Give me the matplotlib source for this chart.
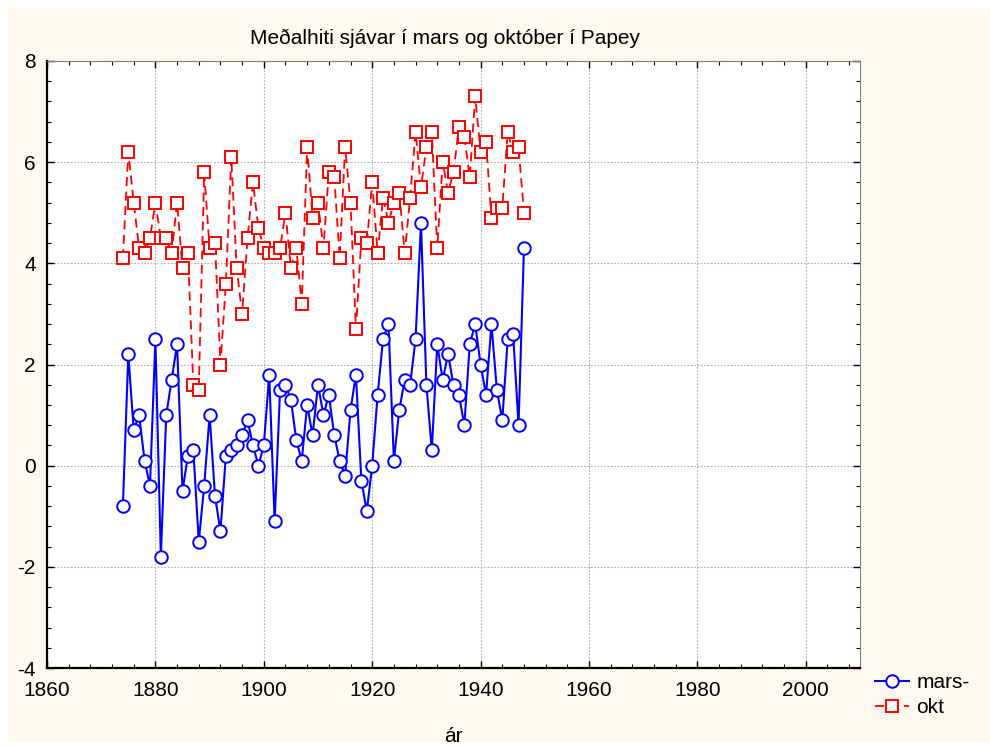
import numpy as np
import matplotlib.pyplot as plt
from matplotlib.patches import Rectangle
from matplotlib.ticker import MultipleLocator

plt.rcParams['font.family'] = ['Liberation Sans', 'DejaVu Sans']
plt.rcParams['axes.unicode_minus'] = False

# Data: sea temperature at Papey, March and October
years = list(range(1874, 1949))
mars = [-0.8, 2.2, 0.7, 1.0, 0.1, -0.4, 2.5, -1.8, 1.0, 1.7,
        2.4, -0.5, 0.2, 0.3, -1.5, -0.4, 1.0, -0.6, -1.3, 0.2,
        0.3, 0.4, 0.6, 0.9, 0.4, 0.0, 0.4, 1.8, -1.1, 1.5,
        1.6, 1.3, 0.5, 0.1, 1.2, 0.6, 1.6, 1.0, 1.4, 0.6,
        0.1, -0.2, 1.1, 1.8, -0.3, -0.9, 0.0, 1.4, 2.5, 2.8,
        0.1, 1.1, 1.7, 1.6, 2.5, 4.8, 1.6, 0.3, 2.4, 1.7,
        2.2, 1.6, 1.4, 0.8, 2.4, 2.8, 2.0, 1.4, 2.8, 1.5,
        0.9, 2.5, 2.6, 0.8, 4.3]
okt = [4.1, 6.2, 5.2, 4.3, 4.2, 4.5, 5.2, 4.5, 4.5, 4.2,
       5.2, 3.9, 4.2, 1.6, 1.5, 5.8, 4.3, 4.4, 2.0, 3.6,
       6.1, 3.9, 3.0, 4.5, 5.6, 4.7, 4.3, 4.2, 4.2, 4.3,
       5.0, 3.9, 4.3, 3.2, 6.3, 4.9, 5.2, 4.3, 5.8, 5.7,
       4.1, 6.3, 5.2, 2.7, 4.5, 4.4, 5.6, 4.2, 5.3, 4.8,
       5.2, 5.4, 4.2, 5.3, 6.6, 5.5, 6.3, 6.6, 4.3, 6.0,
       5.4, 5.8, 6.7, 6.5, 5.7, 7.3, 6.2, 6.4, 4.9, 5.1,
       5.1, 6.6, 6.2, 6.3, 5.0]

W, H = 990, 747
fig = plt.figure(figsize=(W / 100, H / 100), dpi=100)
fig.patch.set_facecolor('white')
# cream panel behind the plot
fig.patches.append(Rectangle((8 / W, 5 / H), 1 - 8 / W, 1 - 13 / H,
                             transform=fig.transFigure, facecolor='#fdf9ef',
                             edgecolor='none', zorder=-10))

ax = fig.add_axes([47 / W, 1 - 668 / H, (860 - 47) / W, (668 - 61) / H])
ax.set_facecolor('white')

ax.plot(years, mars, color='#0000ff', lw=1.5, marker='o', ms=9,
        mfc='white', mec='#0000ff', mew=1.4, label='mars-', zorder=3)
ax.plot(years, okt, color='#ff0000', lw=1.3, ls=(0, (5, 3)), marker='s', ms=9,
        mfc='white', mec='#ff0000', mew=1.4, label='okt', zorder=3)

ax.set_xlim(1860, 2010)
ax.set_ylim(-4, 8)
ax.xaxis.set_major_locator(MultipleLocator(20))
ax.xaxis.set_minor_locator(MultipleLocator(4))
ax.yaxis.set_major_locator(MultipleLocator(2))
ax.yaxis.set_minor_locator(MultipleLocator(0.4))
ax.tick_params(which='both', direction='in', top=True, right=True, labelsize=15)
ax.tick_params(which='major', length=5, width=1)
ax.tick_params(which='minor', length=3, width=0.8)
ax.tick_params(axis='x', which='major', pad=9)
ax.tick_params(axis='y', which='major', pad=8)
ax.grid(True, which='major', color='#b0b0b0', ls=(0, (1.5, 1.5)), lw=0.8)

for s in ['left', 'bottom']:
    ax.spines[s].set_linewidth(1.6)
for s in ['top', 'right']:
    ax.spines[s].set_linewidth(0.8)
    ax.spines[s].set_color('#808080')

ax.set_title('Meðalhiti sjávar í mars og október í Papey', fontsize=15,
             x=0.489, pad=12)
ax.set_xlabel('ár', fontsize=15, labelpad=20)

ax.legend(loc='lower left', bbox_to_anchor=(0.996, -0.112), frameon=False,
          fontsize=15, handlelength=1.6, handletextpad=0.35, labelspacing=0.28)

fig.savefig('out.png', dpi=100, facecolor=fig.get_facecolor())
